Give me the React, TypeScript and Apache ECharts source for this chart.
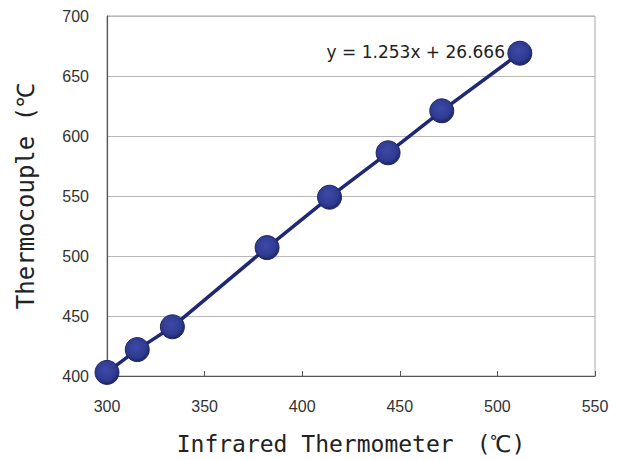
import React, { useEffect, useRef } from "react";
import * as echarts from "echarts";

const infrared: number[] = [300, 315.5, 333.5, 382, 414, 444, 471.5, 511.5];
const thermocouple: number[] = [403, 422, 441, 507, 549, 586, 621, 669];
const xTitle = "Infrared Thermometer　(℃)";
const yTitle = "Thermocouple (℃";
const equation = "y = 1.253x + 26.666";

export default function App() {
  const ref = useRef<HTMLDivElement>(null);
  useEffect(() => {
    if (!ref.current) return;
    const chart = echarts.init(ref.current, undefined, { renderer: "svg" });
    const data = infrared.map((x, i) => [x, thermocouple[i]]);
    chart.setOption({
      animation: false,
      backgroundColor: "#ffffff",
      grid: {
        left: 107,
        right: 29,
        top: 16,
        bottom: 84,
        show: true,
        borderColor: "#a8a8a8",
        borderWidth: 1,
      },
      xAxis: {
        type: "value",
        min: 300,
        max: 550,
        interval: 50,
        name: xTitle,
        nameLocation: "middle",
        nameGap: 56,
        nameTextStyle: { fontFamily: "DejaVu Sans Mono", fontSize: 23, color: "#222" },
        axisLine: { show: true, lineStyle: { color: "#555", width: 1.2 } },
        axisTick: { show: true, inside: true, length: 5, lineStyle: { color: "#555" } },
        axisLabel: { margin: 22, fontFamily: "Liberation Sans", fontSize: 16, color: "#333" },
        splitLine: { show: false },
      },
      yAxis: {
        type: "value",
        min: 400,
        max: 700,
        interval: 50,
        name: yTitle,
        nameLocation: "middle",
        nameGap: 69,
        nameTextStyle: { fontFamily: "DejaVu Sans Mono", fontSize: 24, color: "#222" },
        axisLine: { show: true, lineStyle: { color: "#555", width: 1.2 } },
        axisTick: { show: false },
        axisLabel: { margin: 18, fontFamily: "Liberation Sans", fontSize: 16, color: "#333" },
        splitLine: { show: true, lineStyle: { color: "#b8b8b8", width: 1 } },
      },
      graphic: [
        {
          type: "text",
          right: 119,
          top: 43,
          style: {
            text: equation,
            fontFamily: "DejaVu Sans",
            fontSize: 17,
            fill: "#222",
          },
        },
      ],
      series: [
        {
          type: "line",
          data,
          symbol: "circle",
          symbolSize: 24,
          z: 3,
          lineStyle: { color: "#1f2872", width: 3.5 },
          itemStyle: {
            color: new echarts.graphic.RadialGradient(0.45, 0.4, 0.6, [
              { offset: 0, color: "#3d4aa6" },
              { offset: 0.7, color: "#2f3b92" },
              { offset: 1, color: "#1c2566" },
            ]),
            borderColor: "#1c2566",
            borderWidth: 1,
          },
        },
      ],
    });
    return () => chart.dispose();
  }, []);
  return (
    <div
      ref={ref}
      style={{ position: "fixed", left: 0, top: 0, width: 624, height: 460 }}
    />
  );
}
